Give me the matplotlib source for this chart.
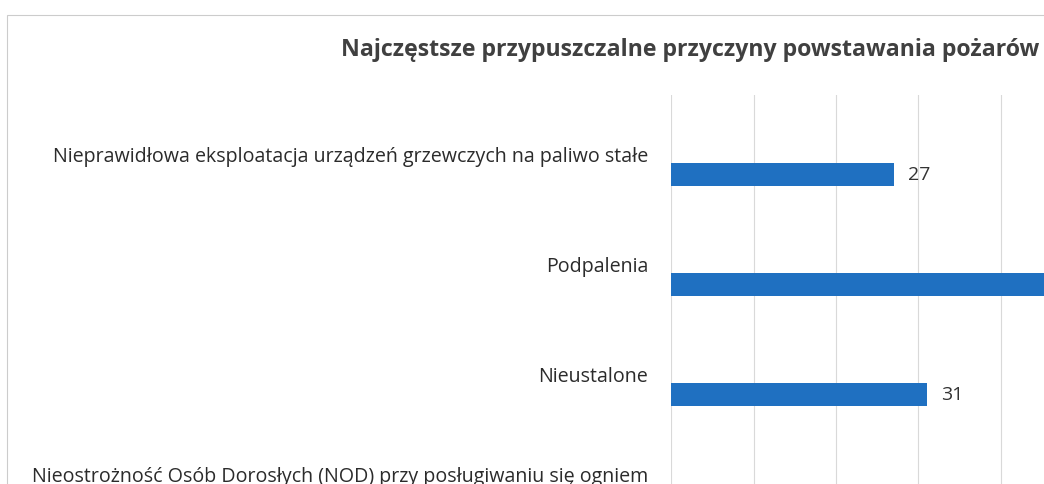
import matplotlib.pyplot as plt
from matplotlib.patches import Rectangle
from matplotlib.transforms import ScaledTranslation

# dane z wykresu (skan, prawa i dolna czesc ucieta)
categories = [
    "Nieprawidłowa eksploatacja urządzeń grzewczych na paliwo stałe",
    "Podpalenia",
    "Nieustalone",
    "Nieostrożność Osób Dorosłych (NOD) przy posługiwaniu się ogniem",
]
values = [27, 48, 31, 22]
title = "Najczęstsze przypuszczalne przyczyny powstawania pożarów"

plt.rcParams['font.family'] = ['Open Sans', 'DejaVu Sans']

fig = plt.figure(figsize=(10.44, 4.84), dpi=100)
W, H = 1044, 484

# obszar wykresu wychodzi poza kadr (tak jak na skanie)
ax = fig.add_axes([671 / W, 1 - 540 / H, 495 / W, 445 / H])

pos = list(range(len(categories)))
bar_pos = [p + 0.18 for p in pos]
ax.barh(bar_pos, values, height=0.21, color='#1F70C1', zorder=3)

for y, v in zip(bar_pos, values):
    ax.annotate(str(v), xy=(v, y), xytext=(10.5, 0), textcoords='offset points',
                ha='left', va='center', fontsize=14, color='#333333',
                annotation_clip=False)

ax.set_xlim(0, 60)
ax.set_ylim(3.5, -0.545)
ax.set_xticks(range(0, 61, 10))
ax.set_xticklabels([])
ax.set_yticks(pos)
ax.set_yticklabels(categories, fontsize=14.1, color='#2b2b2b')
ax.tick_params(axis='both', length=0)
ax.tick_params(axis='y', pad=16.5)
ax.grid(axis='x', color='#d9d9d9', linewidth=0.8, zorder=0)
for s in ax.spines.values():
    s.set_visible(False)

# ostatnia etykieta jest zawinieta w dwie linie, wiec pierwsza linia siedzi wyzej
last = ax.get_yticklabels()[-1]
last.set_transform(last.get_transform() + ScaledTranslation(0, 10 / 100, fig.dpi_scale_trans))

fig.text(690 / W, 1 - 56 / H, title, ha='center', va='baseline',
         fontsize=16.7, fontweight='bold', color='#404040')

# ramka obszaru wykresu
fig.patches.append(Rectangle((7 / W, -0.1), 1.2, 1 - 15 / H + 0.1,
                             transform=fig.transFigure, fill=False,
                             edgecolor='#cccccc', linewidth=0.8))

fig.savefig('out.png', dpi=100)
